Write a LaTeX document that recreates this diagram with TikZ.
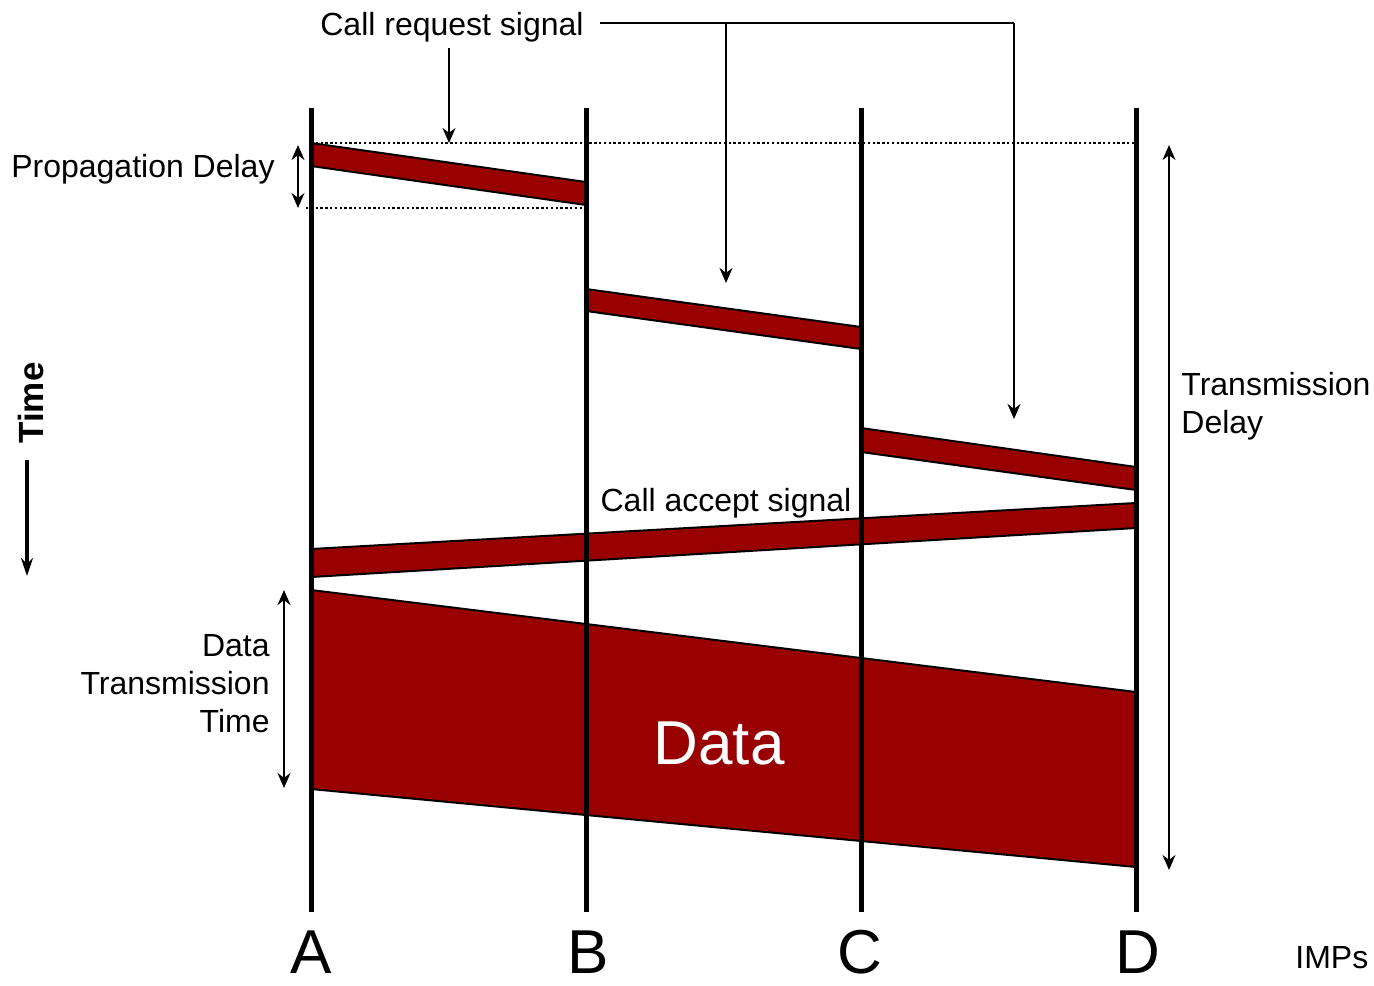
\documentclass[tikz,border=0pt]{standalone}
\usepackage{fontspec}
\setmainfont{Liberation Sans}
\usetikzlibrary{arrows.meta}
\definecolor{band}{HTML}{990000}
\begin{document}
\begin{tikzpicture}[x=0.5pt,y=-0.5pt,
  imp/.style={line width=2.5pt},
  bandfill/.style={fill=band,draw=black,line width=1pt,line join=miter},
  lbl/.style={font=\fontsize{16}{19}\selectfont,inner sep=0pt},
  big/.style={font=\fontsize{31}{36}\selectfont,inner sep=0pt},
  arr/.style={line width=1.1pt,-{Stealth[length=7.5pt,width=6.5pt]}},
  darr/.style={line width=1.1pt,{Stealth[length=7.5pt,width=6.5pt]}-{Stealth[length=7.5pt,width=6.5pt]}},
  dots/.style={line width=1.2pt,dash pattern=on 1.2pt off 1.2pt}]
\useasboundingbox (0,0) rectangle (1374,985);

% IMP lines
\foreach \n/\x in {A/311,B/586,C/861,D/1136}{
  \coordinate (\n t) at (\x,108);
  \coordinate (\n b) at (\x,912);
}

% bands
\fill[bandfill] (311,143) -- (586,182) -- (586,205) -- (311,166) -- cycle;
\fill[bandfill] (586,289) -- (861,327) -- (861,349) -- (586,311) -- cycle;
\fill[bandfill] (861,428) -- (1136,467) -- (1136,490) -- (861,452) -- cycle;
\fill[bandfill] (311,549) -- (1136,503) -- (1136,528) -- (311,577) -- cycle;
\fill[bandfill] (311,590) -- (1136,692) -- (1136,867) -- (311,789) -- cycle;

\foreach \n in {A,B,C,D}{ \draw[imp] (\n t) -- (\n b); }

% dotted reference lines
\coordinate (dotL1) at (311,143);
\coordinate (dotR1) at (1136,143);
\coordinate (dotL2) at (306,208);
\coordinate (dotR2) at (586,208);
\draw[dots] (dotL1) -- (dotR1);
\draw[dots] (dotL2) -- (dotR2);

% labels
\node[lbl,anchor=base] (crs) at (452,35) {Call request signal};
\node[lbl,anchor=base east] (pd) at (275,177) {Propagation Delay};
\node[lbl,anchor=base] (cas) at (726,511) {Call accept signal};
\node[lbl,anchor=base west,align=left] (td) at (1181,433) {Transmission\\Delay};
\node[lbl,anchor=base east,align=right] (dtt) at (270,732) {Data\\Transmission\\Time};
\node[lbl,anchor=base west] (imps) at (1295,968) {IMPs};
\node[big,anchor=base,text=white] (data) at (719,764) {Data};
\node[big,anchor=base] (la) at (311,973) {A};
\node[big,anchor=base] (lb) at (588,973) {B};
\node[big,anchor=base] (lc) at (860,973) {C};
\node[big,anchor=base] (ld) at (1138,973) {D};
\node[font=\fontsize{17.5}{20}\selectfont\bfseries,inner sep=0pt,rotate=90,anchor=base] (time) at (43,403) {Time};

% call request connectors
\coordinate (c0) at (600,23);
\coordinate (c1) at (726,23);
\coordinate (c2) at (1014,23);
\coordinate (t1) at (449,48);
\coordinate (h1) at (449,143);
\coordinate (h2) at (726,283);
\coordinate (h3) at (1014,419);
\draw[arr] (t1) -- (h1);
\draw[line width=1.1pt] (c0) -- (c2);
\draw[arr] (c1) -- (h2);
\draw[arr] (c2) -- (h3);

% delay arrows
\coordinate (pd1) at (298,145);
\coordinate (pd2) at (298,208);
\draw[darr] (pd1) -- (pd2);
\coordinate (td1) at (1169,145);
\coordinate (td2) at (1169,870);
\draw[darr,line width=0.8pt] (td1) -- (td2);
\coordinate (dt1) at (284,590);
\coordinate (dt2) at (284,788);
\draw[darr] (dt1) -- (dt2);

% time arrow
\coordinate (ta1) at (27,460);
\coordinate (ta2) at (27,576);
\draw[line width=1.6pt,-{Stealth[length=9pt,width=6pt]}] (ta1) -- (ta2);
\end{tikzpicture}
\end{document}
